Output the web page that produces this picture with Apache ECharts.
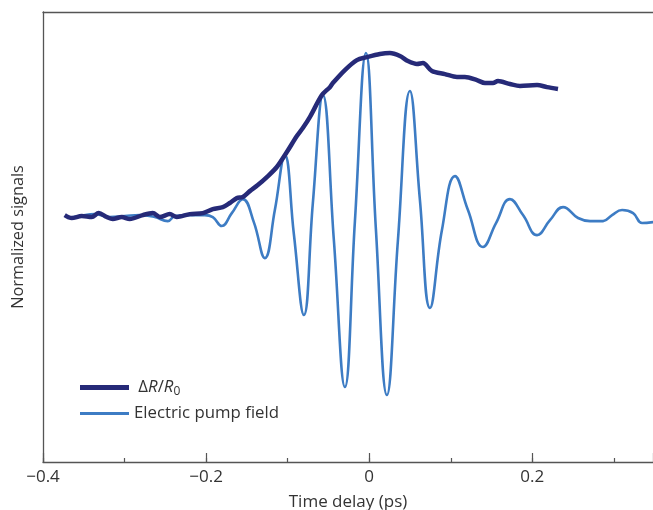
<!DOCTYPE html>
<html>
<head>
<meta charset="utf-8">
<script src="https://cdn.jsdelivr.net/npm/echarts@6/dist/echarts.min.js"></script>
<style>
html,body{margin:0;padding:0;background:#fff;}
#chart{width:653px;height:510px;}
</style>
</head>
<body>
<div id="chart"></div>
<script>
// ΔR/R0 (time in ps, normalized signal)
const drTime = [-0.3734,-0.3648,-0.3525,-0.3402,-0.3317,-0.3218,-0.3145,-0.3034,-0.2936,-0.2777,-0.2654,-0.2568,-0.2445,-0.2359,-0.2200,-0.2040,-0.1918,-0.1795,-0.1709,-0.1623,-0.1550,-0.1464,-0.1366,-0.1255,-0.1133,-0.1010,-0.0887,-0.0814,-0.0728,-0.0580,-0.0482,-0.0446,-0.0298,-0.0151,-0.0028,0.0131,0.0254,0.0377,0.0475,0.0585,0.0659,0.0769,0.0929,0.1076,0.1174,0.1321,0.1420,0.1518,0.1579,0.1726,0.1849,0.2058,0.2180,0.2315];
const drValue = [0.006,-0.012,0,-0.006,0.018,-0.006,-0.018,-0.006,-0.018,0.006,0.018,-0.006,0.012,-0.006,0.012,0.018,0.043,0.055,0.080,0.110,0.117,0.153,0.190,0.239,0.301,0.393,0.491,0.540,0.607,0.742,0.791,0.816,0.896,0.957,0.975,0.994,1.000,0.982,0.951,0.933,0.939,0.890,0.871,0.853,0.853,0.834,0.816,0.816,0.828,0.810,0.798,0.804,0.791,0.779];

// Electric pump field
const pumpTime = [-0.3709,-0.3550,-0.3366,-0.3182,-0.2998,-0.2814,-0.2630,-0.2470,-0.2384,-0.2200,-0.2016,-0.1918,-0.1808,-0.1685,-0.1550,-0.1415,-0.1280,-0.1157,-0.1035,-0.0924,-0.0801,-0.0691,-0.0568,-0.0433,-0.0298,-0.0175,-0.0040,0.0082,0.0217,0.0352,0.0499,0.0622,0.0745,0.0892,0.1052,0.1211,0.1395,0.1555,0.1726,0.1886,0.2058,0.2217,0.2377,0.2561,0.2708,0.2868,0.2978,0.3101,0.3236,0.3346,0.3481];
const pumpValue = [-0.012,0,0.012,-0.006,0,0.006,-0.006,-0.031,0,0.006,0.006,-0.006,-0.061,0.018,0.104,-0.037,-0.258,0.037,0.374,-0.110,-0.607,0.080,0.742,-0.150,-1.049,-0.030,1.000,-0.080,-1.098,-0.150,0.767,0.098,-0.564,-0.086,0.245,0.037,-0.190,-0.043,0.104,0.006,-0.117,-0.025,0.055,-0.012,-0.031,-0.031,0.006,0.037,0.018,-0.043,-0.037];

const xTickLabels = {'-0.4':'\u22120.4','-0.2':'\u22120.2','0':'0','0.2':'0.2'};

const drData = drTime.map((t,i)=>[t, drValue[i]]);
const pumpData = pumpTime.map((t,i)=>[t, pumpValue[i]]);

const FONT = '"Open Sans", "Noto Sans", sans-serif';
const AX = '#555';
const TXT = '#333';
const DARK = '#262a78', LIGHT = '#3d7cc4';
const XMIN = -0.4, XMAX = 0.348, YMIN = -1.509, YMAX = 1.252;

const legendText = {fontFamily:FONT, fontSize:16.8, color:TXT,
  rich:{
    n:{fontFamily:FONT, fontSize:16.8, color:TXT},
    i:{fontFamily:FONT, fontSize:16.8, fontStyle:'italic', color:TXT},
    s:{fontFamily:FONT, fontSize:12, color:TXT, padding:[9,0,0,0]}
  }};

const chart = echarts.init(document.getElementById('chart'), null, {renderer:'canvas'});
chart.setOption({
  animation:false,
  backgroundColor:'#fff',
  grid:{left:43, right:0, top:12, bottom:48, outerBoundsMode:'none', containLabel:false},
  legend:[
    {orient:'vertical', left:80, top:379, padding:0, itemWidth:49, itemHeight:14,
     textStyle:legendText, selectedMode:false,
     formatter:function(){ return '{n| \u0394}{i|R}{n|/}{i|R}{s|0}'; },
     data:[{name:'\u0394R/R0', icon:'path://M0,0 H49 V5 H0 Z', itemStyle:{color:DARK}}]},
    {orient:'vertical', left:80, top:405, padding:0, itemWidth:49, itemHeight:14,
     textStyle:legendText, selectedMode:false,
     data:[{name:'Electric pump field', icon:'path://M0,0 H49 V3 H0 Z', itemStyle:{color:LIGHT}}]}
  ],
  xAxis:[
    {type:'value', min:XMIN, max:XMAX, interval:0.1, position:'bottom',
     name:'Time delay (ps)', nameLocation:'middle', nameGap:32,
     nameTextStyle:{fontFamily:FONT, fontSize:17, color:TXT},
     axisLine:{show:true, onZero:false, lineStyle:{color:AX, width:1.3}},
     axisTick:{show:true, inside:true, length:4, lineStyle:{color:AX, width:1.2}},
     splitLine:{show:false},
     axisLabel:{show:true, showMinLabel:true, showMaxLabel:false, margin:7,
       fontFamily:FONT, fontSize:17, color:TXT,
       formatter:function(v){
         const k = Math.round(v*10)/10;
         const key = String(k===0?0:k);
         return xTickLabels[key] !== undefined && Math.abs(v*10-Math.round(v*10))<1e-6 ? xTickLabels[key] : '';
       }}},
    {type:'value', min:XMIN, max:XMAX, interval:0.2, position:'bottom',
     axisLine:{show:false, onZero:false},
     axisTick:{show:true, inside:true, length:9, lineStyle:{color:AX, width:1.2}},
     axisLabel:{show:false}, splitLine:{show:false}},
    {type:'value', min:XMIN, max:XMAX, position:'top',
     axisLine:{show:true, onZero:false, lineStyle:{color:AX, width:1.3}},
     axisTick:{show:false}, axisLabel:{show:false}, splitLine:{show:false}}
  ],
  yAxis:{type:'value', min:YMIN, max:YMAX,
    name:'Normalized signals', nameLocation:'middle', nameGap:17, nameRotate:90,
    nameTextStyle:{fontFamily:FONT, fontSize:16.3, color:TXT},
    axisLine:{show:true, onZero:false, lineStyle:{color:AX, width:1.3}},
    axisTick:{show:false}, axisLabel:{show:false}, splitLine:{show:false}},
  series:[
    {name:'Electric pump field', type:'line', xAxisIndex:0, data:pumpData,
     showSymbol:false, symbol:'none', smooth:0.45,
     lineStyle:{color:LIGHT, width:2.6}, itemStyle:{color:LIGHT}, z:2},
    {name:'\u0394R/R0', type:'line', xAxisIndex:0, data:drData,
     showSymbol:false, symbol:'none', smooth:0.3,
     lineStyle:{color:DARK, width:4.5}, itemStyle:{color:DARK}, z:3}
  ]
});
</script>
</body>
</html>
